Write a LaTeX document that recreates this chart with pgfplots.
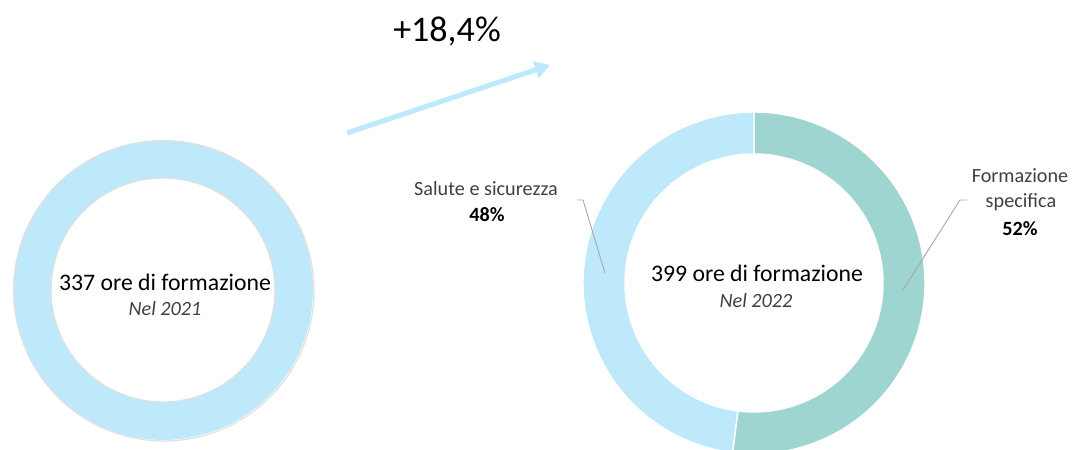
\documentclass[border=0pt]{standalone}
\usepackage{pgfplots}
\pgfplotsset{compat=1.18}
\usepackage{fontspec}
\setmainfont{Carlito}
\usetikzlibrary{arrows.meta}
\definecolor{lblue}{RGB}{189,233,251}
\definecolor{tealseg}{RGB}{159,213,209}
\definecolor{lbl}{RGB}{64,64,64}

% ring segment: cx, cy, outer r, inner r, start angle, end angle, style
\newcommand{\ringseg}[7]{%
  \filldraw[#7] plot[domain=#5:#6, samples=120, variable=\t]
      (axis cs:{#1+#3*cos(\t)},{#2+#3*sin(\t)})
    -- plot[domain=#6:#5, samples=120, variable=\t]
      (axis cs:{#1+#4*cos(\t)},{#2+#4*sin(\t)}) -- cycle;}
% circle outline: cx, cy, r, style
\newcommand{\ringedge}[4]{%
  \draw[#4] plot[domain=0:360, samples=120, variable=\t]
      (axis cs:{#1+#3*cos(\t)},{#2+#3*sin(\t)}) -- cycle;}

% data: hours and split for 2022 (percent)
\def\oreA{337}\def\oreB{399}
\def\pctSpec{52}\def\pctSal{48}
\pgfmathsetmacro{\aSpec}{-90+3.6*\pctSpec}
\pgfmathsetmacro{\aEnd}{\aSpec+3.6*\pctSal}

\begin{document}
\begin{tikzpicture}
\begin{axis}[name=ax, width=21.46cm, height=9cm, scale only axis, hide axis,
    xmin=0, xmax=1073, ymin=0, ymax=450, y dir=reverse]
% 2021: single full ring
\ringseg{163}{290}{150}{112}{-90}{270}{fill=lblue, draw=none}
\ringedge{164}{291}{150}{black!12, line width=0.7pt}
\ringedge{163}{290}{112}{black!12, line width=0.7pt}
% 2022: two segments, clockwise from 12 o'clock
\ringseg{754}{283}{171}{129}{-90}{\aSpec}{fill=tealseg, draw=white, line width=0.8pt}
\ringseg{754}{283}{171}{129}{\aSpec}{\aEnd}{fill=lblue, draw=white, line width=0.8pt}

% growth arrow
\draw[lblue, line width=0.1cm, -{Triangle[length=0.3cm, width=0.34cm]}]
  (axis cs:347,133) -- (axis cs:550,65);
\node[font=\fontsize{20.5}{24}\selectfont] at (axis cs:447,32) {+18,4\%};

% centre labels
\node[font=\fontsize{13.5}{16}\selectfont] at (axis cs:165,282) {\oreA{} ore di formazione};
\node[font=\fontsize{11.5}{14}\selectfont\itshape, text=lbl] at (axis cs:165,309) {Nel 2021};
\node[font=\fontsize{13.5}{16}\selectfont] at (axis cs:757,273) {\oreB{} ore di formazione};
\node[font=\fontsize{11.5}{14}\selectfont\itshape, text=lbl] at (axis cs:756,301) {Nel 2022};

% segment labels with leader lines
\draw[black!35, line width=0.5pt] (axis cs:577,200) -- (axis cs:583,200) -- (axis cs:605,273);
\node[font=\fontsize{11.5}{13}\selectfont, text=lbl] at (axis cs:486,189) {Salute e sicurezza};
\node[font=\fontsize{11.5}{13}\selectfont\bfseries] at (axis cs:487,215) {\pctSal\%};
\draw[black!35, line width=0.5pt] (axis cs:967,200) -- (axis cs:960,200) -- (axis cs:903,290);
\node[font=\fontsize{11.5}{13}\selectfont, text=lbl] at (axis cs:1020,176) {Formazione};
\node[font=\fontsize{11.5}{13}\selectfont, text=lbl] at (axis cs:1021,202) {specifica};
\node[font=\fontsize{11.5}{13}\selectfont\bfseries] at (axis cs:1020,229) {\pctSpec\%};
\end{axis}
\pgfresetboundingbox
\path (ax.south west) rectangle (ax.north east);
\end{tikzpicture}
\end{document}
